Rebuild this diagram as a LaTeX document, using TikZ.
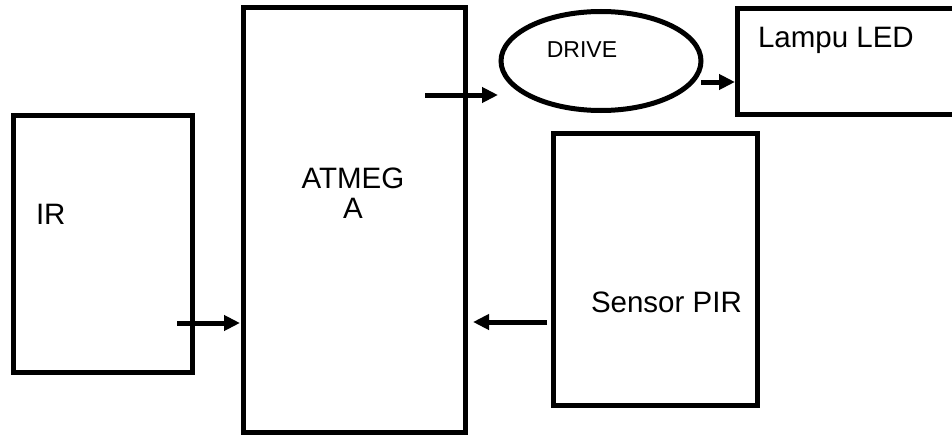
\documentclass[tikz,border=0pt]{standalone}
\usepackage{fontspec}
\setmainfont{Liberation Sans}
\usetikzlibrary{arrows.meta,shapes.geometric,calc}
\begin{document}
\begin{tikzpicture}[x=1pt,y=-1pt,
  blk/.style={draw=black,line width=5pt,rectangle,inner sep=0pt,outer sep=0pt},
  ell/.style={draw=black,line width=5pt,ellipse,inner sep=0pt,outer sep=0pt},
  lbl/.style={inner sep=0pt,outer sep=0pt,font=\fontsize{29.5}{30}\selectfont},
  lbls/.style={inner sep=0pt,outer sep=0pt,font=\fontsize{23}{24}\selectfont},
  arr/.style={line width=5pt,-{Triangle[length=16pt,width=15pt]}}]
\useasboundingbox (0,0) rectangle (952,436);
\clip (0,0) rectangle (952,436);
% blocks
\node[blk,minimum width=179pt,minimum height=257pt] (ir) at (102.5,243.5) {};
\node[blk,minimum width=222pt,minimum height=424pt] (atm) at (354,220) {};
\node[ell,minimum width=200pt,minimum height=99pt] (drive) at (601,61) {};
\node[blk,minimum width=243pt,minimum height=105pt] (led) at (858.5,61.5) {};
\node[blk,minimum width=204pt,minimum height=272pt] (pir) at (655,269) {};
% labels
\node[lbl,anchor=base west] (irT) at (36,224) {IR};
\node[lbl,anchor=north,align=center] (atmT) at (353,167.5) {ATMEG\\A};
\node[lbls,anchor=base] (driveT) at (582,57) {DRIVE};
\node[lbl,anchor=base west] (ledT) at (758,48) {Lampu LED};
\node[lbl,anchor=base west] (pirT) at (591,312) {Sensor PIR};
% connectors
\coordinate (t1) at (177,323);
\draw[arr,shorten >=3pt] (t1) -- (t1 -| atm.west);
\coordinate (t2) at (547,322);
\draw[arr,shorten >=8pt] (t2) -- (t2 -| atm.east);
\coordinate (t3) at (425,95);
\draw[arr,shorten >=3pt] (t3) -- (t3 -| drive.west);
\coordinate (t4) at (701,82);
\draw[arr,shorten >=2pt] (t4) -- (t4 -| led.west);
\end{tikzpicture}
\end{document}
